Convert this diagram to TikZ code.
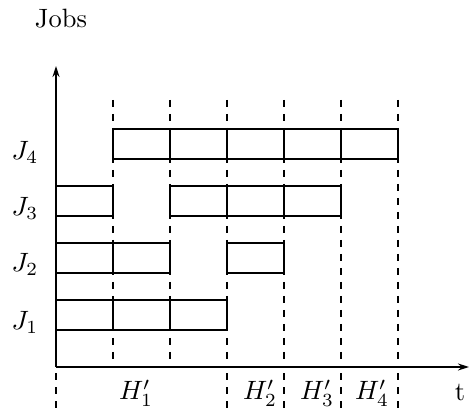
\documentclass[tikz,border=0pt]{standalone}
\usetikzlibrary{arrows.meta}
\begin{document}
\begin{tikzpicture}[x=1pt,y=-1pt,
  axis/.style={line width=1.6pt,-{Stealth[length=11pt,width=7pt]}},
  cell/.style={line width=1.6pt},
  guide/.style={line width=1.3pt,dash pattern=on 7pt off 7pt},
  lab/.style={scale=2.65,inner sep=0pt}]
\useasboundingbox (0,0) rectangle (469,414);
% guide lines
\foreach \x in {113,170,227,284,341,398}
  \draw[guide] (\x,100) -- (\x,367);
\foreach \x in {56,227,284,341,398}
  \draw[guide] (\x,373) -- (\x,414);
% axes
\coordinate (o) at (56,367);
\coordinate (ytop) at (56,66);
\coordinate (xend) at (469,367);
\draw[axis] (o) -- (ytop);
\draw[axis] (o) -- (xend);
% J4
\foreach \x in {113,170,227,284,341}
  \draw[cell] (\x,129) rectangle ++(57,30);
% J3
\draw[cell] (56,186) rectangle ++(57,30);
\foreach \x in {170,227,284}
  \draw[cell] (\x,186) rectangle ++(57,30);
% J2
\foreach \x in {56,113}
  \draw[cell] (\x,243) rectangle ++(57,30);
\draw[cell] (227,243) rectangle ++(57,30);
% J1
\foreach \x in {56,113,170}
  \draw[cell] (\x,300) rectangle ++(57,30);
% labels
\node[lab] (jobs) at (61,19) {Jobs};
\node[lab] (j4) at (25,152) {$J_4$};
\node[lab] (j3) at (25,208) {$J_3$};
\node[lab] (j2) at (25,264) {$J_2$};
\node[lab] (j1) at (25,322) {$J_1$};
\node[lab] (h1) at (136,393) {$H_1'$};
\node[lab] (h2) at (260,393) {$H_2'$};
\node[lab] (h3) at (317,393) {$H_3'$};
\node[lab] (h4) at (372,393) {$H_4'$};
\node[lab] (t) at (460,392) {t};
\end{tikzpicture}
\end{document}
